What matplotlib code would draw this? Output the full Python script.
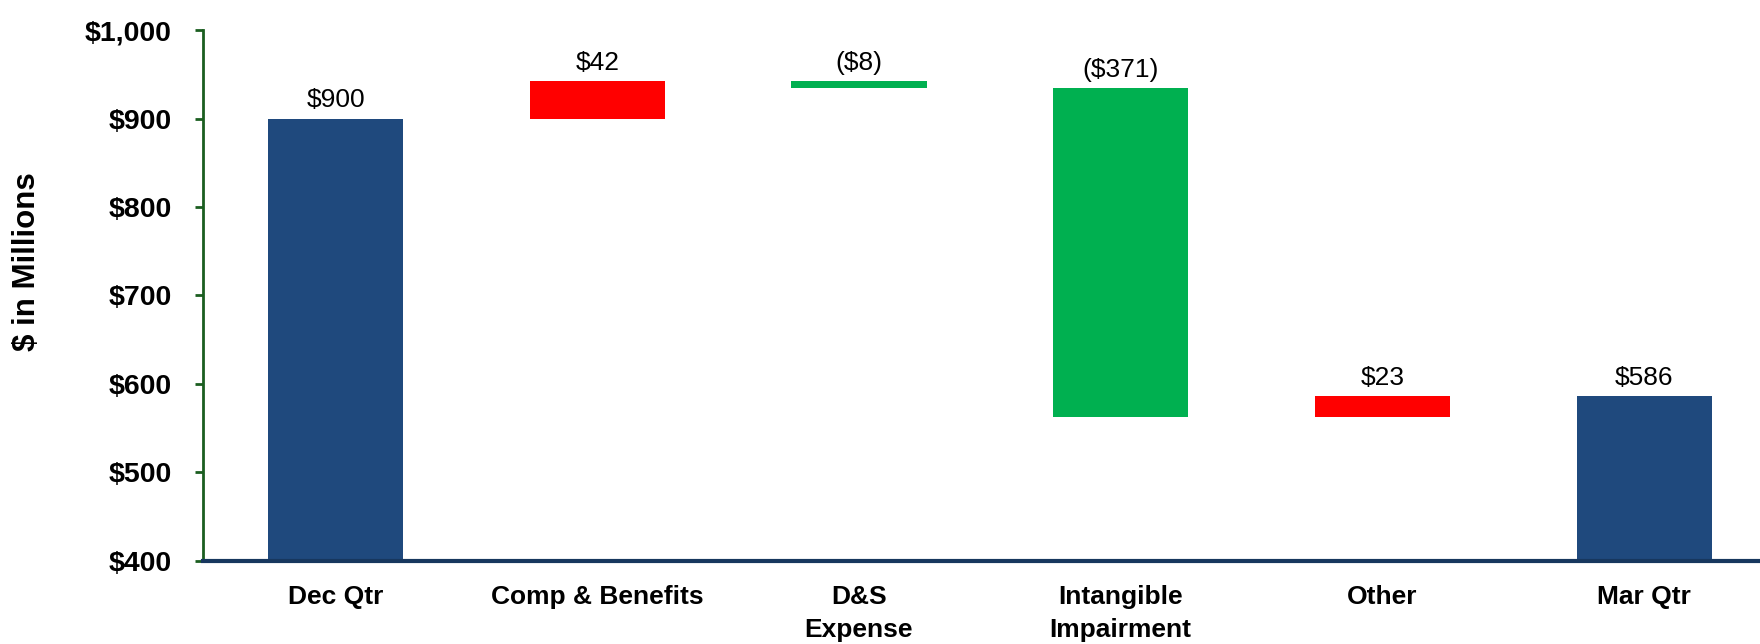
import numpy as np
import matplotlib
matplotlib.use('Agg')
import matplotlib.pyplot as plt
from matplotlib.ticker import FuncFormatter

plt.rcParams['font.family'] = ['Liberation Sans', 'DejaVu Sans']

# 列データ
categories = ['Dec Qtr', 'Comp & Benefits', 'D&S\nExpense',
              'Intangible\nImpairment', 'Other', 'Mar Qtr']
start_total = 900
changes = [42, -8, -371, 23]
end_total = 586
value_labels = ['$900', '$42', '($8)', '($371)', '$23', '$586']

navy = '#1F497D'
up_color = '#FF0000'
down_color = '#00B050'

# ウォーターフォールの下端と高さ
bottoms = [0]
heights = [start_total]
colors = [navy]
level = start_total
for c in changes:
    if c >= 0:
        bottoms.append(level)
    else:
        bottoms.append(level + c)
    heights.append(abs(c))
    colors.append(up_color if c >= 0 else down_color)
    level += c
bottoms.append(0)
heights.append(end_total)
colors.append(navy)

bottoms = np.array(bottoms, dtype=float)
heights = np.array(heights, dtype=float)
tops = bottoms + heights

fig = plt.figure(figsize=(17.6, 6.44), dpi=100)
ax = fig.add_axes([0.1153, 0.1289, 0.8847, 0.8245])

x = np.arange(len(categories))
ax.bar(x, heights, bottom=bottoms, width=0.516, color=colors, zorder=2)

# ラベル
for xi, t, lab in zip(x, tops, value_labels):
    ax.text(xi, t + 7, lab, ha='center', va='bottom', fontsize=19, color='black')

ax.set_ylim(400, 1000)
ax.set_xlim(-0.507, 5.443)
ax.set_yticks(np.arange(400, 1001, 100))
ax.yaxis.set_major_formatter(FuncFormatter(lambda v, p: f'${v:,.0f}'))
ax.set_xticks(x)
ax.set_xticklabels(categories, fontsize=19, fontweight='bold', linespacing=1.5)
for lab in ax.get_yticklabels():
    lab.set_fontweight('bold')
    lab.set_fontsize(20.5)

ax.tick_params(axis='y', direction='out', length=5.5, width=2, color='#1B5E20', pad=17)
ax.tick_params(axis='x', length=0, pad=17)

# 軸線
ax.spines['top'].set_visible(False)
ax.spines['right'].set_visible(False)
ax.spines['left'].set_color('#1B5E20')
ax.spines['left'].set_linewidth(2)
ax.spines['bottom'].set_color('#17375E')
ax.spines['bottom'].set_linewidth(3)
ax.spines['bottom'].set_zorder(3)

fig.text(27 / 1760, 1 - 262 / 644, '$ in Millions', rotation=90,
         ha='center', va='center', fontsize=22.5, fontweight='bold')

fig.savefig('out.png', dpi=100)
